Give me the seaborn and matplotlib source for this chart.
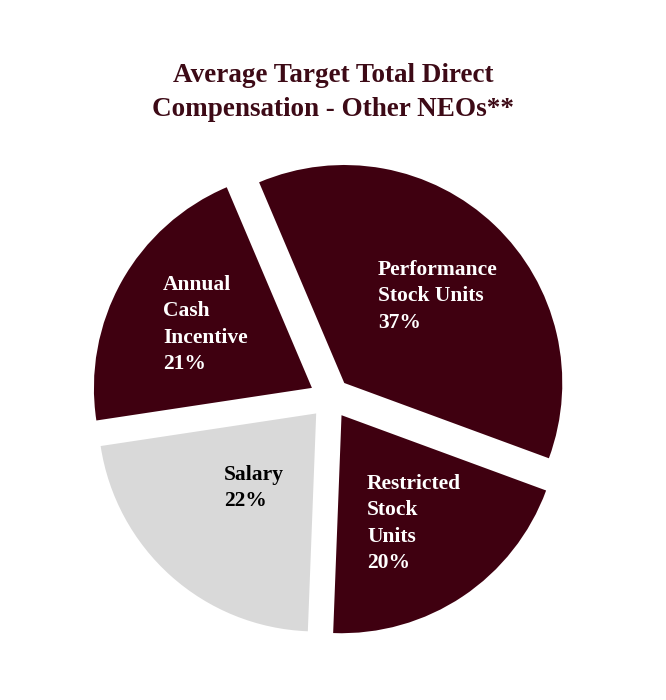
import matplotlib
matplotlib.use("Agg")
import matplotlib.pyplot as plt
import seaborn as sns

categories = ["Performance\nStock Units", "Restricted\nStock\nUnits", "Salary", "Annual\nCash\nIncentive"]
values = [37, 20, 22, 21]
slice_colors = ["#3f0010", "#3f0010", "#d9d9d9", "#3f0010"]
text_colors = ["white", "white", "black", "white"]
# label anchor (left edge, first line centre) in pixel coords of the 666x700 image
label_px = [(378, 268), (367, 482), (224, 473), (163, 283)]
title = "Average Target Total Direct\nCompensation - Other NEOs**"

sns.set_theme(style="white")
plt.rcParams['font.family'] = ['Liberation Serif', 'DejaVu Serif']

W, H = 666, 700
R = 218.0
cx, cy = 330.0, 398.0

fig = plt.figure(figsize=(W / 100, H / 100), dpi=100)
ax = fig.add_axes([0, 0, 1, 1])

ax.pie(values, colors=slice_colors, startangle=113, counterclock=False,
       explode=[0.095] * len(values), radius=1.0, center=(0, 0),
       wedgeprops=dict(linewidth=0), frame=True)
ax.set_xlim(-cx / R, (W - cx) / R)
ax.set_ylim(-(H - cy) / R, cy / R)
ax.set_aspect('equal')
ax.axis('off')

def px2d(x, y):
    return (x - cx) / R, (cy - y) / R

for cat, v, tc, (lx, ly) in zip(categories, values, text_colors, label_px):
    x, y = px2d(lx, ly - 8)
    ax.text(x, y, f"{cat}\n{v}%", color=tc, fontsize=15.5, fontweight='bold',
            ha='left', va='top', linespacing=1.42)

tx, ty = px2d(333, 63)
ax.text(tx, ty, title, color="#3d0a16", fontsize=19.5, fontweight='bold',
        ha='center', va='top', linespacing=1.45)

fig.savefig("out.png", dpi=100)
